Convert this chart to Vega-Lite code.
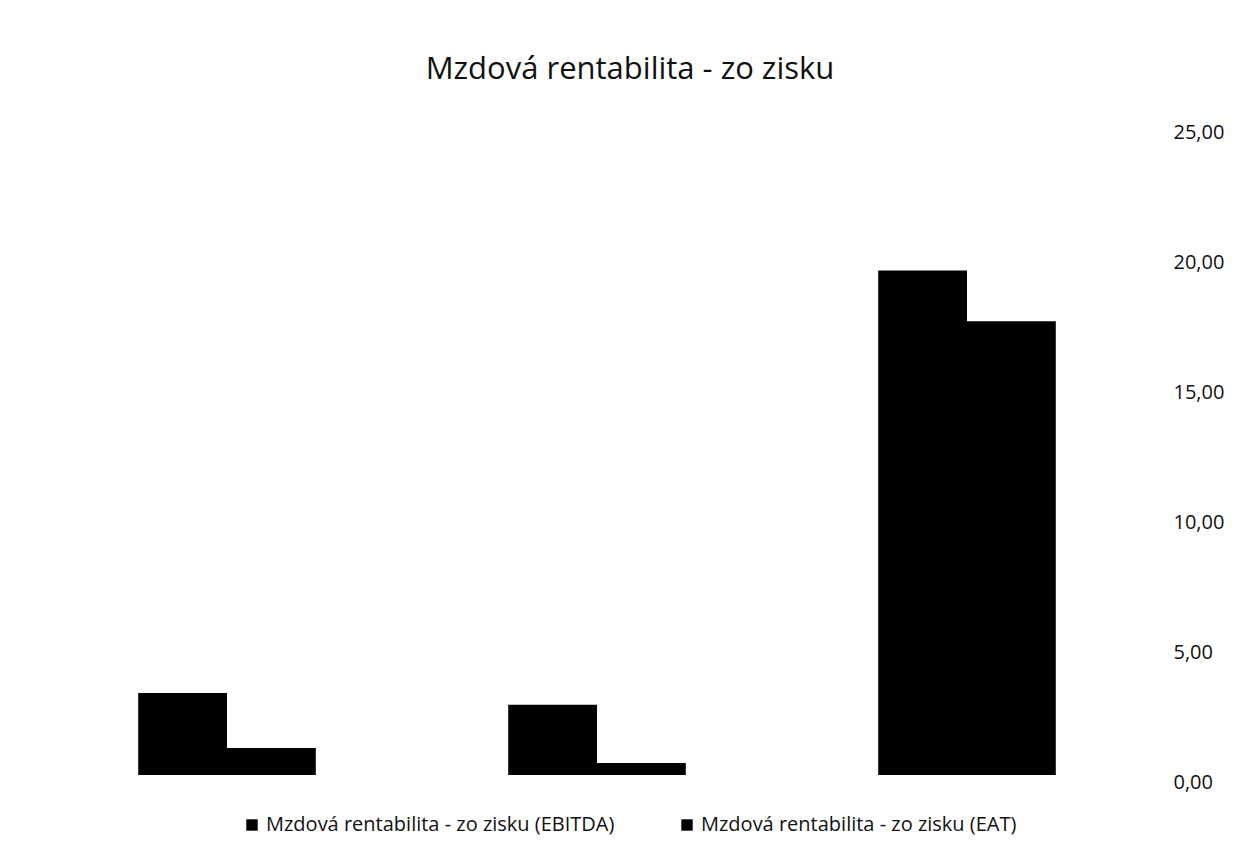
{
  "$schema": "https://vega.github.io/schema/vega-lite/v6.json",
  "width": 1110,
  "height": 650,
  "autosize": {"type": "none"},
  "padding": {"left": 42, "top": 125, "right": 85, "bottom": 88},
  "background": "white",
  "title": {
    "text": "Mzdová rentabilita - zo zisku",
    "font": "Open Sans",
    "fontSize": 31,
    "fontWeight": "normal",
    "color": "#111",
    "anchor": "middle",
    "dx": 33,
    "offset": 36
  },
  "data": {
    "values": [
      {"group": "A", "series": "Mzdová rentabilita - zo zisku (EBITDA)", "value": 3.15},
      {"group": "A", "series": "Mzdová rentabilita - zo zisku (EAT)", "value": 1.04},
      {"group": "B", "series": "Mzdová rentabilita - zo zisku (EBITDA)", "value": 2.7},
      {"group": "B", "series": "Mzdová rentabilita - zo zisku (EAT)", "value": 0.46},
      {"group": "C", "series": "Mzdová rentabilita - zo zisku (EBITDA)", "value": 19.4},
      {"group": "C", "series": "Mzdová rentabilita - zo zisku (EAT)", "value": 17.45}
    ]
  },
  "mark": {"type": "bar", "color": "#000"},
  "encoding": {
    "x": {
      "field": "group",
      "type": "nominal",
      "scale": {"paddingInner": 0.52, "paddingOuter": 0.26},
      "axis": null
    },
    "xOffset": {
      "field": "series",
      "type": "nominal",
      "sort": ["Mzdová rentabilita - zo zisku (EBITDA)", "Mzdová rentabilita - zo zisku (EAT)"],
      "scale": {"paddingInner": 0, "paddingOuter": 0}
    },
    "y": {
      "field": "value",
      "type": "quantitative",
      "scale": {"domain": [0, 25]},
      "axis": {
        "orient": "right",
        "values": [0, 5, 10, 15, 20, 25],
        "labelExpr": "replace(format(datum.value, '.2f'), '.', ',')",
        "title": null,
        "grid": false,
        "domain": false,
        "ticks": false,
        "labelPadding": 21,
        "labelOffset": 7,
        "labelFont": "Open Sans",
        "labelFontSize": 20,
        "labelColor": "#111"
      }
    },
    "color": {
      "field": "series",
      "type": "nominal",
      "sort": ["Mzdová rentabilita - zo zisku (EBITDA)", "Mzdová rentabilita - zo zisku (EAT)"],
      "scale": {"range": ["#000", "#000"]},
      "legend": {
        "orient": "none",
        "legendX": 200,
        "legendY": 690,
        "direction": "horizontal",
        "title": null,
        "symbolType": "square",
        "symbolSize": 130,
        "labelFont": "Open Sans",
        "labelFontSize": 20,
        "labelColor": "#111",
        "columnPadding": 62,
        "labelLimit": 500
      }
    }
  },
  "config": {"view": {"stroke": null}}
}
